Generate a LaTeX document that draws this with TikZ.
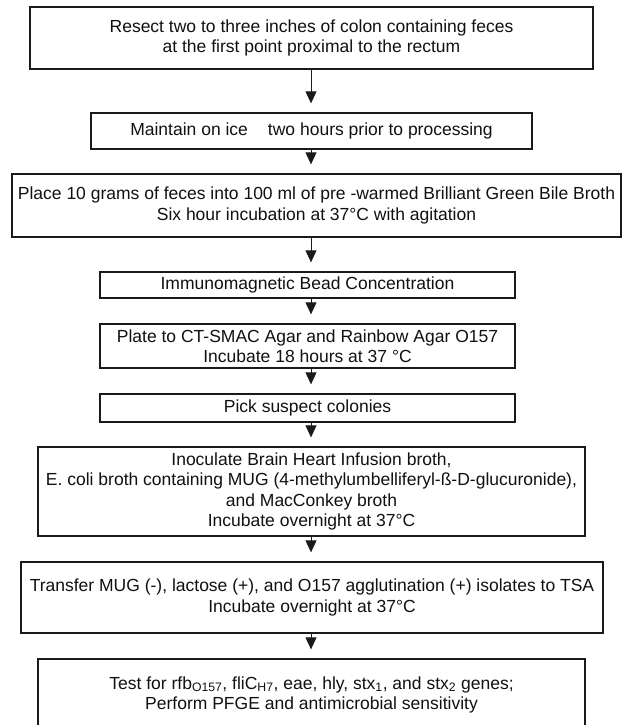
\documentclass[tikz,border=0pt]{standalone}
\usepackage{fontspec}
\setmainfont{Liberation Sans}
\setsansfont{Liberation Sans}
\usetikzlibrary{arrows.meta, calc}
\definecolor{cink}{HTML}{111111}
\definecolor{cline}{HTML}{1A1A1A}
\tikzset{
  every picture/.style={font=\sffamily\fontsize{17.5}{20.5}\selectfont, text=cink},
  box/.style={draw=cline, line width=1.3pt, inner sep=0pt, align=center},
  arrow/.style={-{Triangle[length=12pt, width=11pt]}, draw=cline, line width=0.9pt, shorten >=9pt},
}

\begin{document}
\begin{tikzpicture}[x=1pt, y=-1pt]
  \useasboundingbox (0,0) rectangle (624,725);
  \clip (0,0) rectangle (624,725);
  \fill[white] (0,0) rectangle (624,725);
  \coordinate (spine) at (311,0);
  % steps, top to bottom
  \node[box, minimum width=563pt, minimum height=62pt] (b1) at (311.5,38) {Resect two to three inches of colon containing feces\\at the first point proximal to the rectum};
  \node[box, minimum width=441pt, minimum height=36pt] (b2) at (311.5,131) {Maintain on ice\hspace{20pt}two hours prior to processing};
  \node[box, minimum width=609pt, minimum height=63pt] (b3) at (316.5,205.5) {Place 10 grams of feces into 100 ml of pre -warmed Brilliant Green Bile Broth\\Six hour incubation at 37°C with agitation};
  \node[box, minimum width=415pt, minimum height=26pt] (b4) at (307.5,285) {Immunomagnetic Bead Concentration};
  \node[box, minimum width=415pt, minimum height=44pt] (b5) at (307.5,346) {Plate to CT-SMAC Agar and Rainbow Agar O157\\Incubate 18 hours at 37 °C};
  \node[box, minimum width=415pt, minimum height=28pt] (b6) at (307.5,408) {Pick suspect colonies};
  \node[box, minimum width=547pt, minimum height=89pt] (b7) at (311.5,491.5) {Inoculate Brain Heart Infusion broth,\\E. coli broth containing MUG (4-methylumbelliferyl-ß-D-glucuronide),\\and MacConkey broth\\Incubate overnight at 37°C};
  \node[box, minimum width=582pt, minimum height=71pt] (b8) at (312,597.5) {Transfer MUG (-), lactose (+), and O157 agglutination (+) isolates to TSA\\Incubate overnight at 37°C};
  \node[box, minimum width=547pt, minimum height=72pt] (b9) at (311.5,695) {Test for rfb\textsubscript{O157}, fliC\textsubscript{H7}, eae, hly, stx\textsubscript{1}, and stx\textsubscript{2} genes;\\Perform PFGE and antimicrobial sensitivity};
  \foreach \a/\b in {b1/b2, b2/b3, b3/b4, b4/b5, b5/b6, b6/b7, b7/b8, b8/b9} {
    \draw[arrow] (\a.south -| spine) -- (\b.north -| spine);
  }
\end{tikzpicture}
\end{document}
